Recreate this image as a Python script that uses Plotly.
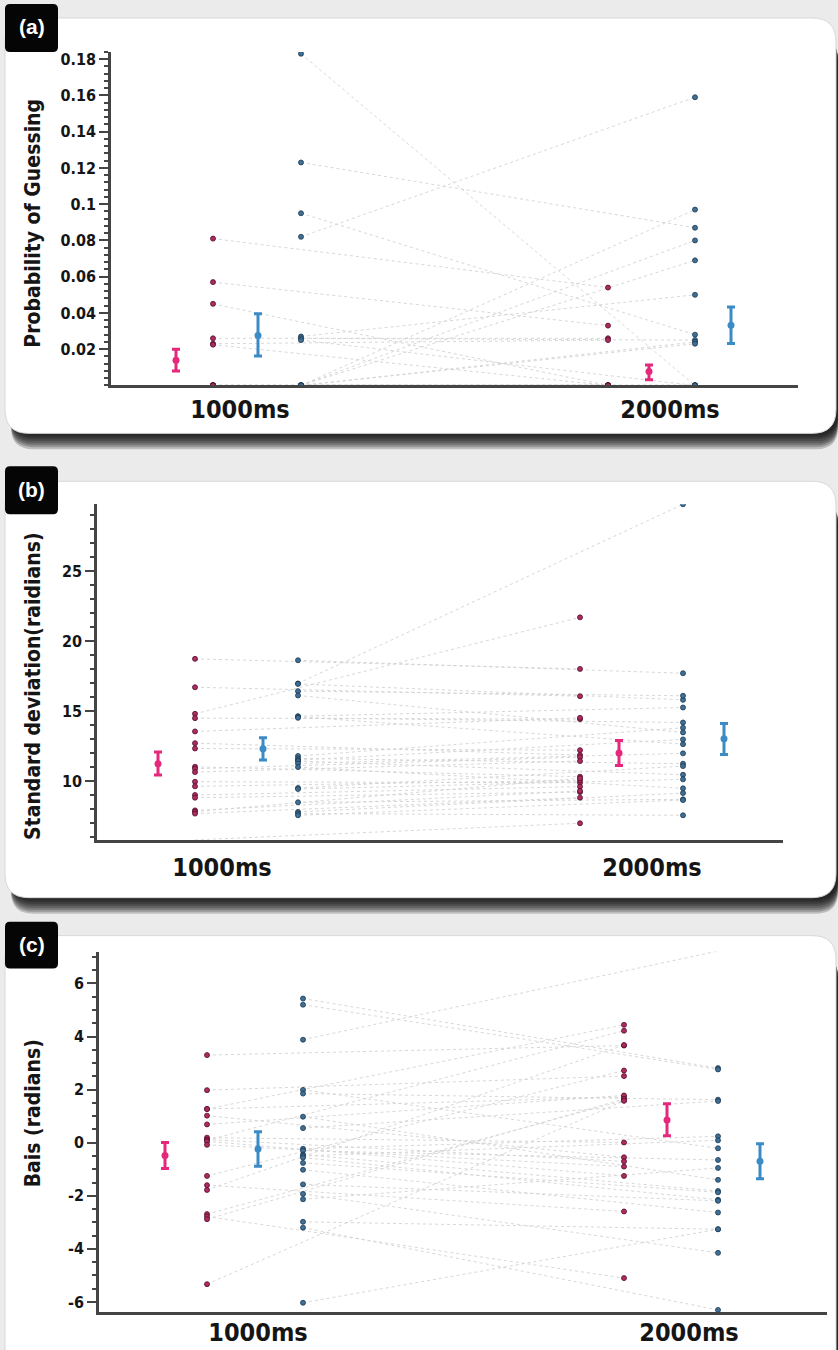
import plotly.graph_objects as go

W, H = 838, 1350

conditions = ["1000ms", "2000ms"]

# ---------------- Panel (a): probability of guessing ----------------
guess_pink_1000 = [0.081, 0.057, 0.045, 0.026, 0.023, 0.0225, 0, 0, 0, 0, 0, 0, 0, 0, 0, 0, 0, 0]
guess_pink_2000 = [0.054, 0.033, 0, 0.026, 0.025, 0, 0, 0, 0, 0, 0, 0, 0, 0, 0, 0, 0, 0]
guess_blue_1000 = [0.183, 0.123, 0.095, 0.082, 0.027, 0.026, 0.025, 0, 0, 0, 0, 0, 0, 0, 0, 0, 0, 0, 0, 0]
guess_blue_2000 = [0, 0.087, 0.028, 0.159, 0.050, 0.025, 0, 0.097, 0.080, 0.069, 0.024, 0.023, 0, 0, 0, 0, 0, 0, 0, 0]
guess_pink_mean = [0.0139, 0.0077]
guess_pink_upper = [0.0199, 0.0113]
guess_pink_lower = [0.0080, 0.0031]
guess_blue_mean = [0.0276, 0.0332]
guess_blue_upper = [0.0395, 0.0433]
guess_blue_lower = [0.0163, 0.0232]
guess_ticks = [0.02, 0.04, 0.06, 0.08, 0.1, 0.12, 0.14, 0.16, 0.18]
guess_ticktext = ["0.02", "0.04", "0.06", "0.08", "0.1", "0.12", "0.14", "0.16", "0.18"]

# ---------------- Panel (b): standard deviation ----------------
sd_pink_1000 = [18.74, 16.71, 14.81, 14.5, 13.55, 12.71, 12.33, 11.02, 10.88, 10.64, 9.95, 9.62, 9.0, 8.81, 7.9, 7.81, 7.67, 5.79]
sd_pink_2000 = [18.02, 16.07, 21.71, 14.43, 14.52, 11.86, 12.21, 10.31, 11.71, 11.43, 9.88, 10.05, 9.6, 9.21, 9.29, 10.2, 8.81, 6.98]
sd_blue_1000 = [18.64, 16.98, 16.95, 16.43, 16.12, 14.64, 14.6, 14.52, 11.79, 11.62, 11.5, 11.43, 11.26, 11.0, 9.5, 9.43, 8.48, 7.79, 7.67, 7.55]
sd_blue_2000 = [17.71, 29.8, 15.81, 16.1, 13.48, 15.26, 12.64, 14.19, 13.81, 11.24, 12.98, 10.45, 11.98, 9.48, 11.07, 10.12, 8.69, 9.14, 7.55, 8.64]
sd_pink_mean = [11.24, 12.0]
sd_pink_upper = [12.07, 12.9]
sd_pink_lower = [10.43, 11.12]
sd_blue_mean = [12.31, 13.02]
sd_blue_upper = [13.1, 14.12]
sd_blue_lower = [11.5, 11.9]
sd_ticks = [10, 15, 20, 25]
sd_ticktext = ["10", "15", "20", "25"]

# ---------------- Panel (c): bias ----------------
bias_pink_1000 = [3.30, 1.98, 1.27, 1.27, 1.02, 0.69, 0.19, 0.12, 0.09, 0.05, -0.08, -1.25, -1.6, -1.78, -2.69, -2.78, -2.88, -5.33]
bias_pink_2000 = [3.66, 2.51, 4.44, 1.72, -0.55, 1.78, 0.01, -0.7, 4.22, -1.25, -0.9, 2.72, -2.59, 3.68, 1.59, -5.1, 1.65, 1.58]
bias_blue_1000 = [5.43, 5.2, 3.88, 1.99, 1.85, 0.98, 0.55, -0.23, -0.3, -0.45, -0.5, -0.56, -0.76, -1.02, -1.57, -1.93, -2.13, -2.98, -3.2, -6.03]
bias_blue_2000 = [2.81, 2.76, 7.22, -0.21, 1.62, -1.40, 1.57, 0.24, -0.65, -1.82, 0.09, -2.15, -1.87, -2.63, -2.19, -4.15, -0.95, -3.26, -6.3, -3.26]
bias_pink_mean = [-0.48, 0.86]
bias_pink_upper = [0.01, 1.47]
bias_pink_lower = [-0.97, 0.26]
bias_blue_mean = [-0.24, -0.7]
bias_blue_upper = [0.41, -0.04]
bias_blue_lower = [-0.89, -1.36]
bias_ticks = [-6, -4, -2, 0, 2, 4, 6]
bias_ticktext = ["-6", "-4", "-2", "0", "2", "4", "6"]

# ---------------- styling / layout ----------------
PINK_DOT = "#b02a62"
PINK_EDGE = "#4e1028"
BLUE_DOT = "#3f6f96"
BLUE_EDGE = "#1c3850"
PINK_EB = "#e5287c"
BLUE_EB = "#3a8bc6"
LINE_GREY = "#d2d2d2"
AXIS = "#454545"
TXT = "#151515"
NARROW = "DejaVu Sans Condensed, Liberation Sans Narrow, sans-serif"

panels = [
    dict(key="a", title="Probability of Guessing",
         p1000=guess_pink_1000, p2000=guess_pink_2000, b1000=guess_blue_1000, b2000=guess_blue_2000,
         pm=guess_pink_mean, pu=guess_pink_upper, pl=guess_pink_lower,
         bm=guess_blue_mean, bu=guess_blue_upper, bl=guess_blue_lower,
         ticks=guess_ticks, ticktext=guess_ticktext, yrange=[0, 0.184], minor=0.004, minor0=0,
         box=(111, 798, 50, 384), c1000=240, c2000=670,
         off=dict(peb=(-64, -21), pdot=(-27, -62), beb=(18, 61), bdot=(61, 25)),
         title_y=222, xlab_pad=0, label_box=(5, 58, 2, 50), card=(5, 836, 16, 432)),
    dict(key="b", title="Standard deviation(raidians)",
         p1000=sd_pink_1000, p2000=sd_pink_2000, b1000=sd_blue_1000, b2000=sd_blue_2000,
         pm=sd_pink_mean, pu=sd_pink_upper, pl=sd_pink_lower,
         bm=sd_blue_mean, bu=sd_blue_upper, bl=sd_blue_lower,
         ticks=sd_ticks, ticktext=sd_ticktext, yrange=[5.8, 29.8], minor=1, minor0=0,
         box=(97, 783, 503, 839), c1000=222, c2000=652,
         off=dict(peb=(-64, -33), pdot=(-27, -72), beb=(41, 72), bdot=(76, 31)),
         title_y=685, xlab_pad=3, label_box=(5, 58, 465, 513), card=(5, 836, 480, 897)),
    dict(key="c", title="Bais (radians)",
         p1000=bias_pink_1000, p2000=bias_pink_2000, b1000=bias_blue_1000, b2000=bias_blue_2000,
         pm=bias_pink_mean, pu=bias_pink_upper, pl=bias_pink_lower,
         bm=bias_blue_mean, bu=bias_blue_upper, bl=bias_blue_lower,
         ticks=bias_ticks, ticktext=bias_ticktext, yrange=[-6.38, 7.2], minor=0.5, minor0=0,
         box=(99, 827, 951, 1312), c1000=258, c2000=689,
         off=dict(peb=(-93, -22), pdot=(-51, -65), beb=(0, 71), bdot=(45, 29)),
         title_y=1113, xlab_pad=-4, label_box=(5, 58, 921, 968), card=(5, 836, 935, 1380)),
]


def px(x):
    return x / W


def py(y):
    return 1 - y / H


def rrect(x0, x1, y0, y1, r):
    pts = [
        f"M{px(x0 + r)},{py(y0)}",
        f"L{px(x1 - r)},{py(y0)}",
        f"Q{px(x1)},{py(y0)} {px(x1)},{py(y0 + r)}",
        f"L{px(x1)},{py(y1 - r)}",
        f"Q{px(x1)},{py(y1)} {px(x1 - r)},{py(y1)}",
        f"L{px(x0 + r)},{py(y1)}",
        f"Q{px(x0)},{py(y1)} {px(x0)},{py(y1 - r)}",
        f"L{px(x0)},{py(y0 + r)}",
        f"Q{px(x0)},{py(y0)} {px(x0 + r)},{py(y0)}",
        "Z",
    ]
    return " ".join(pts)


fig = go.Figure()
shapes = []
annotations = []

for i, P in enumerate(panels):
    n = "" if i == 0 else str(i + 1)
    xa, ya = "x" + n, "y" + n
    unit = P["c2000"] - P["c1000"]
    o = {k: (v[0] / unit, 1 + v[1] / unit) for k, v in P["off"].items()}

    # subject lines
    for a1, a2, key in ((P["p1000"], P["p2000"], "pdot"), (P["b1000"], P["b2000"], "bdot")):
        lx, ly = [], []
        for v1, v2 in zip(a1, a2):
            lx += [o[key][0], o[key][1], None]
            ly += [v1, v2, None]
        fig.add_trace(go.Scatter(x=lx, y=ly, mode="lines", xaxis=xa, yaxis=ya,
                                 line=dict(color=LINE_GREY, width=0.9, dash="dot"),
                                 hoverinfo="skip", showlegend=False))
    # subject dots
    for a1, a2, key, col, edge in ((P["p1000"], P["p2000"], "pdot", PINK_DOT, PINK_EDGE),
                                   (P["b1000"], P["b2000"], "bdot", BLUE_DOT, BLUE_EDGE)):
        fig.add_trace(go.Scatter(x=[o[key][0]] * len(a1) + [o[key][1]] * len(a2), y=a1 + a2,
                                 mode="markers", xaxis=xa, yaxis=ya,
                                 marker=dict(size=5, color=col, line=dict(color=edge, width=0.8)),
                                 showlegend=False))
    # means with error bars
    for m, u, l, key, col in ((P["pm"], P["pu"], P["pl"], "peb", PINK_EB),
                              (P["bm"], P["bu"], P["bl"], "beb", BLUE_EB)):
        fig.add_trace(go.Scatter(x=list(o[key]), y=m, mode="markers", xaxis=xa, yaxis=ya,
                                 marker=dict(size=7, color=col),
                                 error_y=dict(type="data", symmetric=False,
                                              array=[uu - mm for uu, mm in zip(u, m)],
                                              arrayminus=[mm - ll for ll, mm in zip(l, m)],
                                              color=col, thickness=3, width=4),
                                 cliponaxis=False, showlegend=False))

    x0, x1, y0, y1 = P["box"]
    xr = [(x0 - P["c1000"]) / unit, (x1 - P["c1000"]) / unit]
    fig.layout["xaxis" + n] = dict(domain=[px(x0), px(x1)], range=xr, anchor=ya,
                                   tickmode="array", tickvals=[0, 1], ticktext=conditions,
                                   ticks="", showline=True, linecolor=AXIS, linewidth=2.5,
                                   showgrid=False, zeroline=False, fixedrange=True,
                                   ticklabelstandoff=P["xlab_pad"],
                                   tickfont=dict(family=NARROW, size=25, color=TXT, weight=700))
    fig.layout["yaxis" + n] = dict(domain=[py(y1), py(y0)], range=P["yrange"], anchor=xa,
                                   tickmode="array", tickvals=P["ticks"], ticktext=P["ticktext"],
                                   ticks="outside", ticklen=9, tickwidth=2, tickcolor=AXIS,
                                   minor=dict(ticks="outside", ticklen=4, tickwidth=1.5, tickcolor=AXIS,
                                              tickmode="linear", dtick=P["minor"], tick0=P["minor0"]),
                                   showline=True, linecolor=AXIS, linewidth=2.5,
                                   showgrid=False, zeroline=False, fixedrange=True,
                                   tickfont=dict(family=NARROW, size=16, color=TXT, weight=700))

    # axis title
    annotations.append(dict(text=P["title"], textangle=-90, x=px(33), y=py(P["title_y"]),
                            xref="paper", yref="paper", showarrow=False,
                            xanchor="center", yanchor="middle",
                            font=dict(family=NARROW, size=21, color=TXT, weight=700)))

    # card: shadow + white panel
    cx0, cx1, cy0, cy1 = P["card"]
    for k in range(1, 9):
        shapes.append(dict(type="path", path=rrect(cx0 + 6, cx1 + 2, cy0 + 20, cy1 + 2 * k, 22),
                           xref="paper", yref="paper", fillcolor="rgba(0,0,0,0.2)",
                           line=dict(width=0), layer="below"))
    shapes.append(dict(type="path", path=rrect(cx0, cx1, cy0, cy1, 24), xref="paper", yref="paper",
                       fillcolor="white", line=dict(color="#d8d8d8", width=1), layer="below"))
    # label box
    lx0, lx1, ly0, ly1 = P["label_box"]
    shapes.append(dict(type="path", path=rrect(lx0, lx1, ly0, ly1, 5), xref="paper", yref="paper",
                       fillcolor="#050505", line=dict(width=0), layer="below"))
    annotations.append(dict(text=f"({P['key']})", x=px((lx0 + lx1) / 2), y=py((ly0 + ly1) / 2 - 1),
                            xref="paper", yref="paper", showarrow=False,
                            xanchor="center", yanchor="middle",
                            font=dict(family="Liberation Sans, Arial, sans-serif", size=21,
                                      color="white", weight=700)))

fig.update_layout(width=W, height=H, margin=dict(l=0, r=0, t=0, b=0),
                  paper_bgcolor="#ebebeb", plot_bgcolor="rgba(0,0,0,0)",
                  shapes=shapes, annotations=annotations, showlegend=False)

fig.write_html("out.html")
